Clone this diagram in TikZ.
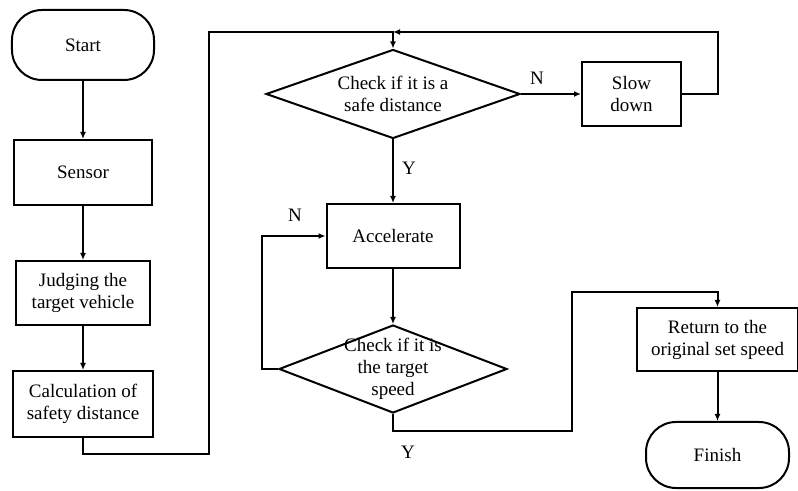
\documentclass[tikz,border=0pt]{standalone}
\usepackage{fontspec}
\setmainfont{Liberation Serif}
\usetikzlibrary{shapes.geometric,arrows.meta}
\begin{document}
\begin{tikzpicture}[x=0.5bp,y=-0.5bp,
  every node/.style={font=\fontsize{9.5bp}{11bp}\selectfont},
  box/.style={draw,line width=1bp,rectangle,inner sep=0pt,align=center},
  term/.style={box,rounded corners=15bp},
  dia/.style={draw,line width=1bp,diamond,inner sep=0pt},
  txt/.style={align=center,inner sep=0pt},
  lbl/.style={inner sep=0pt},
  link/.style={line width=1bp},
  arr/.style={link,-{Latex[length=3.5bp,width=3bp]}}]
\useasboundingbox (0,0) rectangle (798,491);

% left column
\node[term,minimum width=71bp,minimum height=35bp] (start) at (83,45) {Start};
\node[box,minimum width=68.5bp,minimum height=32.5bp] (sensor) at (83,172.5) {Sensor};
\node[box,minimum width=67bp,minimum height=32bp] (judge) at (83,293) {Judging the\\target vehicle};
\node[box,minimum width=69.5bp,minimum height=33bp] (calc) at (83,404) {Calculation of\\safety distance};

% safe distance check and its loop
\node[dia,minimum width=127bp,minimum height=44.5bp] (d1) at (393,94) {};
\node[txt] (d1t) at (d1) {Check if it is a\\safe distance};
\node[box,minimum width=49.5bp,minimum height=32bp] (slow) at (631.5,94) {Slow\\down};

% acceleration loop
\node[box,minimum width=66.5bp,minimum height=32bp] (acc) at (393,236) {Accelerate};
\node[dia,minimum width=114bp,minimum height=44bp] (d2) at (393,369) {};
\node[txt] (d2t) at (d2) {Check if it is\\the target\\speed};

% right column
\node[box,minimum width=81pt,minimum height=31.5bp] (ret) at (717.5,339.5) {Return to the\\original set speed};
\node[term,minimum width=71.5bp,minimum height=33bp] (fin) at (717.5,455) {Finish};

% bend points
\coordinate (c1) at (83,454);
\coordinate (c2) at (209,454);
\coordinate (c3) at (209,32);
\coordinate (top) at (393,32);
\coordinate (s1) at (718,94);
\coordinate (s2) at (718,32);
\coordinate (n1) at (262,369);
\coordinate (n2) at (262,236);
\coordinate (y1) at (393,431);
\coordinate (y2) at (572,431);
\coordinate (y3) at (572,292);
\coordinate (y4) at (717.5,292);

% connectors
\draw[arr] (start) -- (sensor);
\draw[arr] (sensor) -- (judge);
\draw[arr] (judge) -- (calc);
\draw[arr] (calc.south) -- (c1) -- (c2) -- (c3) -- (top) -- (d1.north);
\draw[arr] (d1.east) -- (slow.west);
\draw[arr] (slow.east) -- (s1) -- (s2) -- (top);
\draw[arr] (d1.south) -- (acc.north);
\draw[arr] (acc.south) -- (d2.north);
\draw[arr] (d2.west) -- (n1) -- (n2) -- (acc.west);
\draw[arr] (d2.south) -- (y1) -- (y2) -- (y3) -- (y4) -- (ret.north);
\draw[arr] (ret) -- (fin);

% branch labels
\node[lbl] (ln1) at (537,78) {N};
\node[lbl] (ly1) at (409,168) {Y};
\node[lbl] (ln2) at (295,215) {N};
\node[lbl] (ly2) at (408,452) {Y};
\end{tikzpicture}
\end{document}
